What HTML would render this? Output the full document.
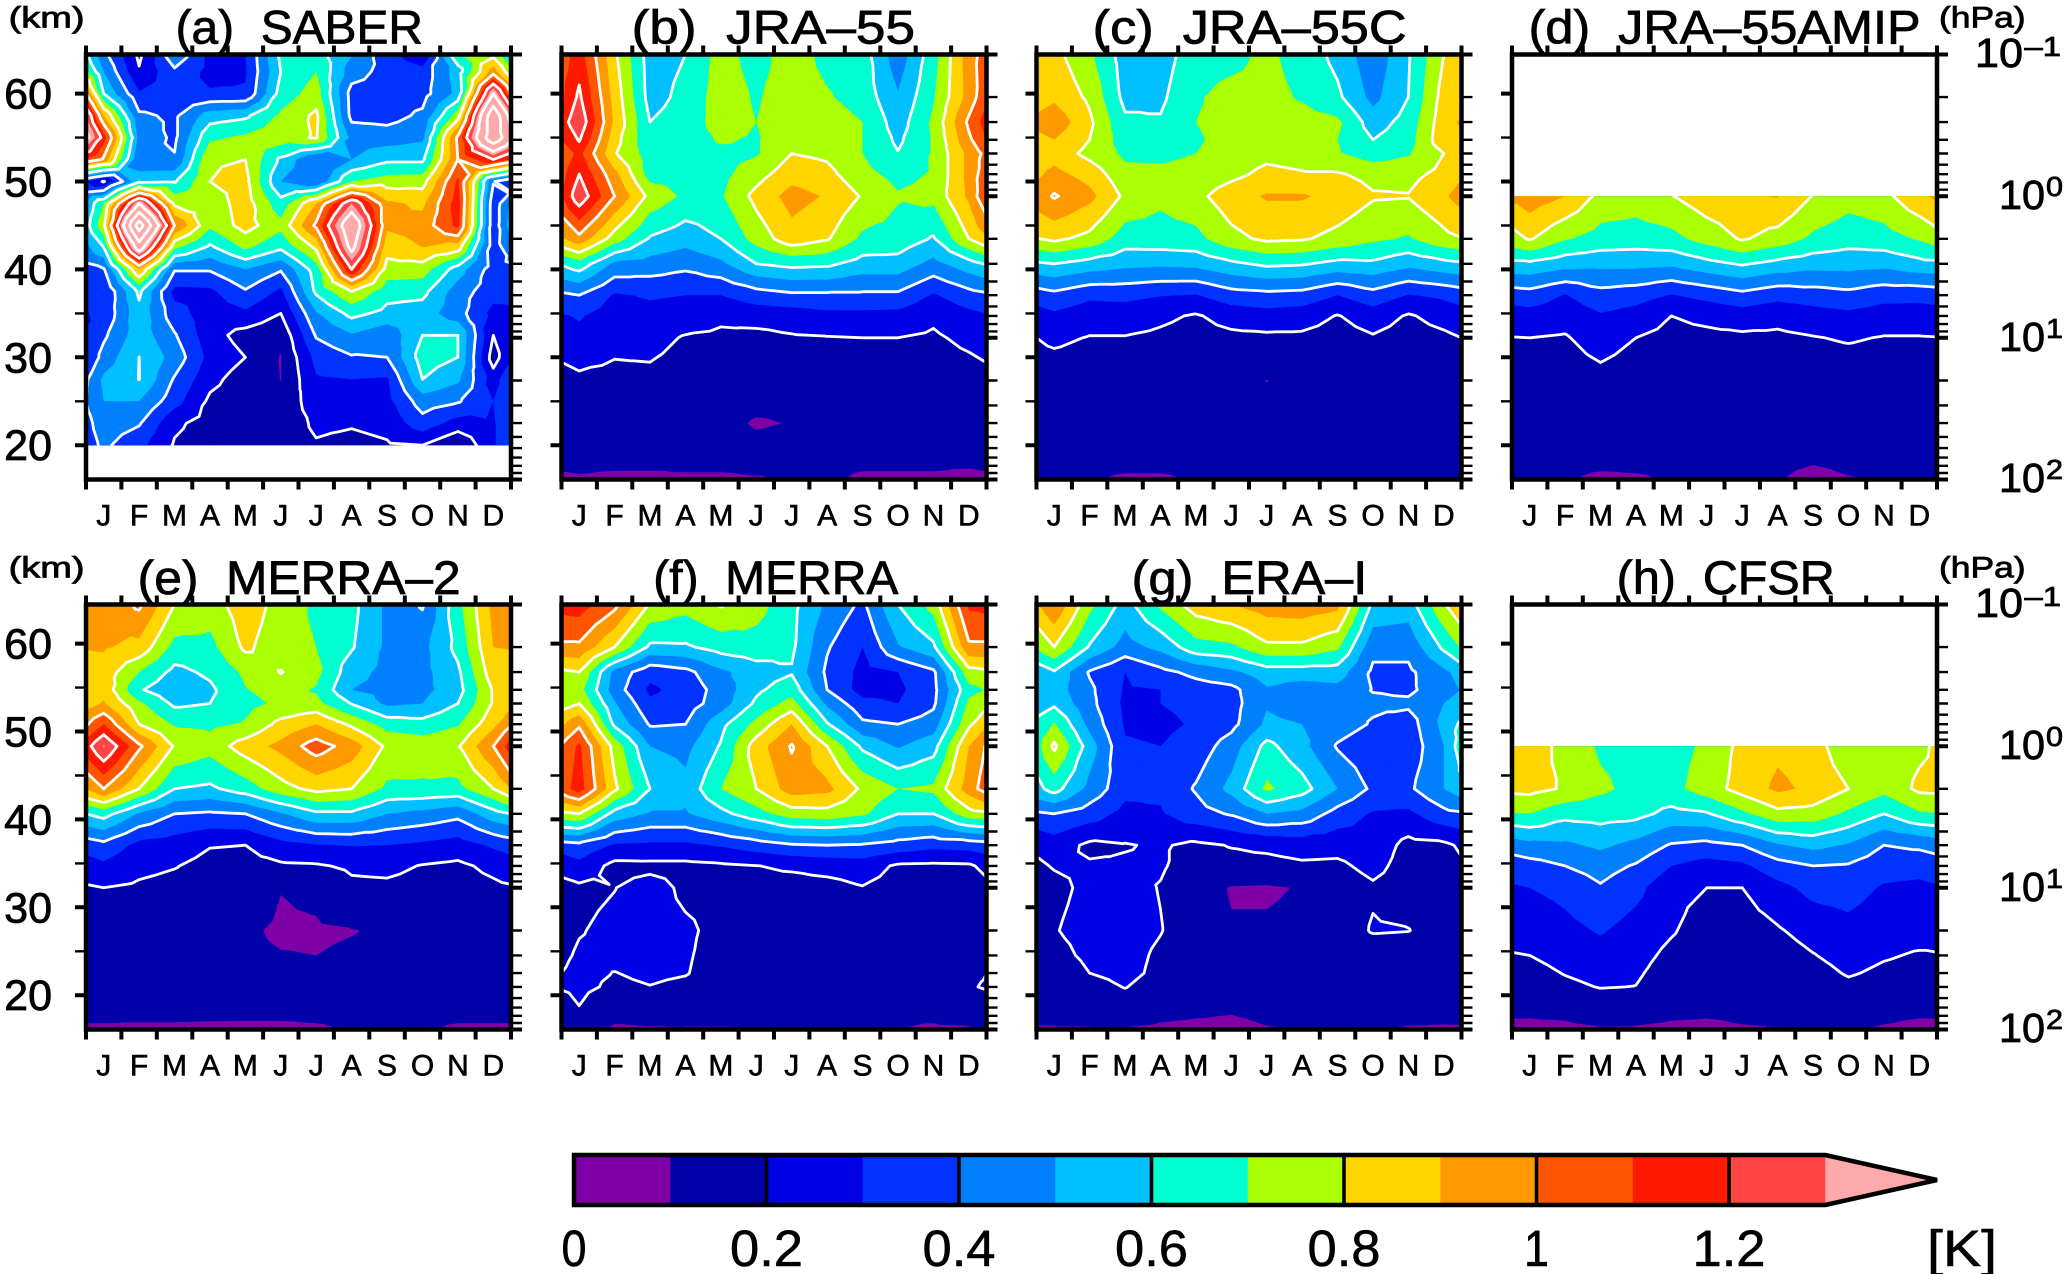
<!DOCTYPE html>
<html lang="en">
<head>
<meta charset="utf-8">
<title>Temperature variance by month and height</title>
<style>
html,body{margin:0;padding:0;background:#fff}
svg{display:block}
text{font-family:"Liberation Sans",sans-serif;fill:#000;white-space:pre;stroke:#000;stroke-width:.6px}
.title text{stroke-width:.8px}
</style>
</head>
<body>
<svg id="figure" xmlns="http://www.w3.org/2000/svg" width="2066" height="1274" viewBox="0 0 2066 1274">
<rect x="0" y="0" width="2066" height="1274" fill="#fff"/>
<g id="panels"></g>
<g id="colorbar"></g>
<g class="title" font-size="47">
<text x="175.6" y="43.3" textLength="247.4" lengthAdjust="spacingAndGlyphs">(a)  SABER</text>
<text x="631.7" y="43.3" textLength="283.3" lengthAdjust="spacingAndGlyphs">(b)  JRA–55</text>
<text x="1092.7" y="43.3" textLength="314" lengthAdjust="spacingAndGlyphs">(c)  JRA–55C</text>
<text x="1528.6" y="43.3" textLength="392" lengthAdjust="spacingAndGlyphs">(d)  JRA–55AMIP</text>
<text x="137.7" y="594" textLength="323" lengthAdjust="spacingAndGlyphs">(e)  MERRA–2</text>
<text x="653.3" y="594" textLength="245" lengthAdjust="spacingAndGlyphs">(f)  MERRA</text>
<text x="1131.7" y="594" textLength="235.6" lengthAdjust="spacingAndGlyphs">(g)  ERA–I</text>
<text x="1616.7" y="594" textLength="218" lengthAdjust="spacingAndGlyphs">(h)  CFSR</text>
</g>
<g class="title" font-size="43" text-anchor="end">
<text x="52" y="108.6">60</text>
<text x="52" y="196.5">50</text>
<text x="52" y="284.4">40</text>
<text x="52" y="372.3">30</text>
<text x="52" y="460.2">20</text>
<text x="52" y="658.6">60</text>
<text x="52" y="746.5">50</text>
<text x="52" y="834.4">40</text>
<text x="52" y="922.3">30</text>
<text x="52" y="1010.2">20</text>
</g>
<g class="title" font-size="30">
<text x="8.6" y="27.5" textLength="76" lengthAdjust="spacingAndGlyphs">(km)</text>
<text x="8.6" y="577.5" textLength="76" lengthAdjust="spacingAndGlyphs">(km)</text>
<text x="1939" y="27.5" textLength="86.6" lengthAdjust="spacingAndGlyphs">(hPa)</text>
<text x="1939" y="577.5" textLength="86.6" lengthAdjust="spacingAndGlyphs">(hPa)</text>
</g>
<g class="title">
<text x="1975" y="67" font-size="41" textLength="48" lengthAdjust="spacingAndGlyphs">10</text>
<text x="2024.5" y="56" font-size="28" textLength="36.5" lengthAdjust="spacingAndGlyphs">–1</text>
<text x="1999" y="209" font-size="41" textLength="46" lengthAdjust="spacingAndGlyphs">10</text>
<text x="2046" y="196" font-size="28" textLength="17" lengthAdjust="spacingAndGlyphs">0</text>
<text x="1999" y="351" font-size="41" textLength="46" lengthAdjust="spacingAndGlyphs">10</text>
<text x="2046" y="338" font-size="28" textLength="17" lengthAdjust="spacingAndGlyphs">1</text>
<text x="1999" y="492" font-size="41" textLength="46" lengthAdjust="spacingAndGlyphs">10</text>
<text x="2046" y="479" font-size="28" textLength="17" lengthAdjust="spacingAndGlyphs">2</text>
<text x="1975" y="617" font-size="41" textLength="48" lengthAdjust="spacingAndGlyphs">10</text>
<text x="2024.5" y="606" font-size="28" textLength="36.5" lengthAdjust="spacingAndGlyphs">–1</text>
<text x="1999" y="759" font-size="41" textLength="46" lengthAdjust="spacingAndGlyphs">10</text>
<text x="2046" y="746" font-size="28" textLength="17" lengthAdjust="spacingAndGlyphs">0</text>
<text x="1999" y="901" font-size="41" textLength="46" lengthAdjust="spacingAndGlyphs">10</text>
<text x="2046" y="888" font-size="28" textLength="17" lengthAdjust="spacingAndGlyphs">1</text>
<text x="1999" y="1042" font-size="41" textLength="46" lengthAdjust="spacingAndGlyphs">10</text>
<text x="2046" y="1029" font-size="28" textLength="17" lengthAdjust="spacingAndGlyphs">2</text>
</g>
</svg>
<script>
const monthLabels=['J','F','M','A','M','J','J','A','S','O','N','D'];
const saberKm=[65,62.5,60,57.5,55,52.5,50,47.5,45,42.5,40,37.5,35,32.5,30,27.5,25,22.5,20];
const fullHpa=[.1,.2,.3,.4,.5,.7,1,2,3,5,7,10,20,30,40,50,70,100];
const lowTopHpa=[1,2,3,5,7,10,20,30,40,50,70,100];
const kmMajorTicks=[60,50,40,30,20];
const kmMinorTicks=[55,45,35,25];
const hpaMajorTicks=[.1,1,10,100];
const hpaMinorTicks=[.2,.3,.4,.5,.6,.7,.8,.9,2,3,4,5,6,7,8,9,20,30,40,50,60,70,80,90];
const shadeLevels=[.1,.2,.3,.4,.5,.6,.7,.8,.9,1,1.1,1.2,1.3];
const shadeColors=['#8000a8','#0000aa','#0000e6','#0033ff','#0080ff','#00c0ff','#00ffd0','#aaff00','#ffd500','#ff9900','#ff5500','#ff1a00','#ff4545','#ffaaaa'];
const contourLevels=[.2,.4,.6,.8,1,1.2,1.4,1.6,1.8];
const colorbarTicks=[0,.2,.4,.6,.8,1,1.2];

const saberValues=[
[.41,.17,.50,.28,.30,.63,.64,.52,.34,.17,.72,.72],
[.50,.21,.38,.27,.29,.60,.70,.45,.36,.34,.55,.95],
[.60,.31,.33,.31,.31,.64,.75,.36,.35,.36,.53,1.4],
[.90,.42,.38,.55,.58,.72,.82,.37,.36,.42,.75,1.75],
[1.15,.47,.38,.68,.72,.76,.81,.47,.45,.48,1.02,1.75],
[.98,.41,.41,.79,.80,.58,.40,.50,.58,.58,1.0,1.2],
[.19,.58,.59,.80,.83,.50,.41,.70,.75,.76,1.12,.41],
[.70,1.4,.78,.74,.85,.64,.90,1.3,.92,.88,1.15,.33],
[.78,1.9,1.0,.72,.84,.73,1.02,1.55,.92,.94,1.13,.33],
[.60,1.5,.72,.58,.72,.62,.82,1.45,.84,.90,.85,.34],
[.39,.90,.41,.41,.50,.41,.65,1.2,.76,.75,.55,.35],
[.30,.62,.27,.28,.39,.28,.62,.80,.64,.63,.45,.34],
[.32,.57,.34,.25,.28,.20,.49,.63,.57,.55,.44,.27],
[.38,.56,.41,.24,.16,.12,.41,.49,.43,.60,.60,.20],
[.44,.6005,.46,.27,.20,.095,.33,.39,.40,.65,.60,.15],
[.52,.602,.39,.23,.15,.098,.29,.30,.29,.60,.52,.25],
[.50,.50,.34,.18,.14,.12,.26,.25,.27,.45,.41,.30],
[.45,.41,.22,.16,.14,.13,.22,.21,.23,.36,.26,.29],
[.42,.33,.19,.15,.14,.14,.19,.17,.19,.20,.10,.29]
];
const jra55Values=[
[1.15,.82,.55,.60,.74,.66,.75,.67,.65,.44,.66,.95],
[1.22,.86,.56,.63,.75,.69,.75,.71,.66,.51,.69,.94],
[1.28,.88,.60,.65,.74,.70,.76,.75,.70,.55,.72,1.02],
[1.21,.84,.62,.66,.71,.69,.77,.76,.70,.58,.71,.98],
[1.13,.81,.65,.67,.68,.69,.80,.78,.70,.605,.71,.93],
[1.20,.93,.66,.67,.67,.76,.86,.83,.73,.67,.71,.93],
[1.27,1.00,.77,.68,.69,.83,.94,.89,.79,.71,.73,.92],
[.97,.75,.59,.54,.60,.74,.86,.81,.68,.66,.59,.80],
[.66,.48,.46,.43,.48,.60,.63,.62,.56,.56,.47,.56],
[.40,.29,.31,.30,.30,.35,.38,.38,.38,.38,.29,.36],
[.31,.25,.27,.26,.22,.24,.245,.27,.27,.265,.22,.27],
[.27,.23,.24,.19,.18,.17,.19,.195,.20,.20,.185,.225],
[.18,.17,.17,.14,.13,.115,.12,.12,.13,.13,.13,.15],
[.14,.14,.14,.13,.12,.11,.11,.11,.12,.12,.12,.13],
[.13,.13,.13,.12,.115,.095,.102,.11,.11,.115,.115,.12],
[.13,.13,.13,.12,.12,.105,.11,.11,.11,.11,.11,.12],
[.115,.115,.115,.11,.11,.11,.105,.105,.105,.105,.105,.11],
[.095,.09,.09,.095,.095,.098,.102,.103,.097,.097,.097,.09]
];
const jra55cValues=[
[.83,.72,.55,.55,.66,.67,.72,.66,.57,.43,.59,.80],
[.88,.78,.57,.58,.69,.73,.73,.69,.62,.47,.60,.84],
[.97,.82,.62,.61,.70,.73,.74,.74,.72,.55,.64,.86],
[.90,.80,.65,.65,.69,.73,.74,.73,.70,.60,.66,.87],
[.86,.77,.68,.68,.70,.73,.77,.75,.71,.65,.69,.80],
[.93,.86,.73,.72,.73,.77,.83,.81,.81,.77,.77,.83],
[1.01,.93,.78,.72,.77,.86,.91,.91,.87,.81,.805,.885],
[.82,.77,.65,.66,.67,.77,.82,.81,.77,.72,.69,.77],
[.60,.56,.53,.52,.53,.58,.62,.61,.57,.58,.53,.57],
[.37,.32,.325,.305,.295,.355,.37,.36,.30,.36,.295,.32],
[.28,.245,.25,.22,.19,.24,.26,.245,.195,.25,.19,.235],
[.22,.195,.195,.18,.16,.175,.18,.18,.16,.19,.16,.18],
[.14,.13,.13,.125,.125,.12,.099,.12,.12,.125,.125,.13],
[.12,.115,.115,.115,.115,.115,.115,.115,.115,.115,.115,.115],
[.11,.11,.11,.11,.11,.11,.11,.11,.11,.11,.11,.11],
[.11,.11,.11,.11,.11,.11,.11,.11,.11,.11,.11,.11],
[.105,.105,.105,.105,.105,.105,.105,.105,.105,.105,.105,.105],
[.102,.101,.098,.098,.101,.102,.102,.102,.102,.102,.102,.102]
];
const jra55amipValues=[
[.96,.90,.77,.75,.795,.86,.89,.905,.795,.74,.77,.88],
[.81,.71,.66,.65,.67,.74,.81,.76,.68,.64,.66,.71],
[.58,.54,.53,.53,.52,.57,.61,.57,.54,.54,.53,.57],
[.355,.295,.36,.34,.295,.33,.37,.33,.35,.37,.335,.33],
[.26,.245,.29,.26,.20,.225,.25,.23,.255,.275,.25,.25],
[.20,.19,.255,.20,.17,.175,.18,.18,.195,.21,.195,.195],
[.14,.13,.16,.13,.125,.125,.125,.125,.13,.135,.13,.13],
[.12,.12,.13,.12,.115,.115,.115,.115,.115,.12,.12,.12],
[.11,.11,.115,.11,.11,.11,.11,.11,.11,.11,.11,.11],
[.11,.11,.11,.11,.108,.108,.108,.108,.108,.11,.11,.11],
[.105,.105,.105,.105,.105,.105,.105,.105,.103,.105,.105,.105],
[.102,.101,.097,.098,.101,.102,.102,.101,.094,.099,.101,.101]
];
const merra2Values=[
[.92,1.02,.80,.75,.86,.76,.68,.63,.48,.39,.67,.93],
[.91,.87,.67,.67,.82,.74,.70,.61,.48,.47,.63,.90],
[.86,.70,.57,.62,.72,.805,.73,.54,.47,.47,.58,.86],
[.87,.61,.53,.58,.695,.74,.69,.50,.47,.47,.56,.81],
[.91,.72,.58,.60,.67,.72,.73,.595,.48,.50,.60,.81],
[1.10,.80,.69,.68,.71,.83,.90,.78,.66,.64,.69,.87],
[1.31,1.02,.79,.74,.85,.93,1.05,.955,.78,.76,.79,1.0],
[1.0,.80,.60,.58,.65,.76,.83,.80,.68,.68,.67,.80],
[.64,.49,.40,.385,.40,.49,.58,.58,.50,.47,.43,.56],
[.37,.27,.25,.205,.20,.265,.295,.305,.30,.28,.255,.315],
[.28,.225,.205,.17,.165,.185,.19,.215,.225,.195,.18,.225],
[.20,.185,.17,.15,.145,.102,.12,.18,.18,.165,.155,.18],
[.13,.125,.125,.12,.11,.09,.09,.097,.11,.125,.125,.13],
[.125,.12,.12,.115,.11,.103,.10,.11,.115,.12,.12,.125],
[.12,.115,.115,.115,.11,.11,.11,.11,.115,.115,.115,.12],
[.115,.11,.11,.11,.11,.11,.11,.11,.11,.11,.11,.115],
[.11,.11,.11,.11,.11,.11,.11,.11,.11,.11,.11,.11],
[.096,.095,.095,.094,.0935,.0935,.096,.102,.103,.102,.096,.096]
];
const merraValues=[
[1.15,1.03,.79,.74,.81,.74,.63,.48,.38,.60,.74,1.12],
[.98,.80,.58,.585,.64,.66,.62,.41,.30,.49,.58,.98],
[.80,.47,.33,.37,.48,.55,.59,.38,.27,.30,.38,.76],
[.74,.45,.28,.34,.44,.58,.66,.40,.26,.28,.37,.67],
[.80,.51,.32,.35,.45,.62,.74,.48,.33,.30,.38,.72],
[.98,.58,.39,.40,.57,.73,.90,.61,.42,.40,.45,.78],
[1.12,.76,.50,.47,.61,.85,1.01,.80,.58,.49,.56,.90],
[1.15,.82,.60,.53,.70,.80,.95,.93,.78,.70,.72,.95],
[.80,.56,.49,.49,.57,.66,.75,.76,.72,.60,.60,.76],
[.37,.29,.28,.28,.31,.35,.39,.40,.39,.36,.33,.34],
[.27,.17,.175,.175,.185,.198,.215,.235,.25,.185,.18,.185],
[.18,.198,.24,.18,.17,.165,.16,.165,.195,.165,.16,.17],
[.195,.22,.24,.215,.175,.14,.13,.13,.13,.13,.14,.15],
[.21,.22,.23,.21,.165,.13,.125,.12,.12,.125,.13,.16],
[.22,.198,.215,.205,.16,.13,.12,.12,.12,.12,.13,.18],
[.22,.185,.198,.18,.15,.125,.12,.115,.115,.115,.125,.193],
[.198,.13,.13,.12,.12,.115,.11,.11,.11,.11,.115,.13],
[.094,.09,.095,.097,.097,.10,.101,.101,.102,.10,.094,.095]
];
const eraiValues=[
[.99,.73,.56,.72,.85,.90,.95,.96,.93,.58,.55,.79],
[.80,.59,.46,.53,.66,.68,.78,.78,.72,.43,.43,.62],
[.59,.39,.30,.37,.43,.48,.55,.55,.55,.38,.38,.48],
[.55,.42,.29,.30,.35,.37,.49,.45,.47,.395,.38,.46],
[.58,.43,.28,.30,.32,.36,.49,.45,.44,.42,.42,.50],
[.71,.47,.29,.28,.31,.37,.52,.50,.45,.39,.35,.53],
[.82,.55,.31,.30,.34,.45,.63,.53,.39,.33,.33,.50],
[.64,.47,.33,.32,.41,.53,.72,.64,.50,.38,.38,.50],
[.40,.35,.27,.29,.36,.41,.50,.47,.36,.29,.28,.37],
[.25,.18,.195,.21,.18,.205,.22,.24,.235,.26,.17,.18],
[.205,.21,.21,.21,.16,.17,.17,.185,.18,.23,.16,.17],
[.18,.218,.24,.195,.14,.095,.09,.105,.14,.185,.15,.15],
[.195,.23,.25,.205,.13,.105,.11,.12,.13,.21,.203,.15],
[.17,.22,.24,.18,.12,.115,.115,.12,.125,.13,.13,.13],
[.14,.20,.235,.17,.12,.115,.115,.115,.12,.12,.12,.12],
[.13,.15,.205,.14,.115,.115,.11,.11,.115,.115,.115,.115],
[.11,.115,.13,.115,.11,.105,.11,.11,.11,.11,.11,.11],
[.098,.098,.097,.093,.09,.09,.098,.102,.102,.102,.098,.097]
];
const cfsrValues=[
[.85,.77,.685,.66,.66,.72,.83,.88,.85,.72,.74,.78],
[.83,.79,.72,.67,.67,.75,.84,.92,.88,.80,.73,.82],
[.70,.63,.64,.63,.57,.59,.68,.77,.76,.68,.60,.69],
[.47,.48,.52,.47,.39,.37,.40,.49,.53,.49,.40,.42],
[.36,.40,.44,.39,.30,.26,.28,.36,.40,.39,.34,.33],
[.30,.33,.39,.33,.23,.20,.20,.27,.33,.34,.29,.28],
[.23,.27,.31,.26,.21,.15,.15,.19,.24,.27,.24,.24],
[.20,.235,.26,.235,.175,.14,.13,.15,.195,.24,.21,.19],
[.165,.205,.235,.215,.15,.13,.125,.14,.16,.21,.18,.165],
[.14,.175,.205,.198,.135,.125,.12,.13,.135,.175,.15,.14],
[.11,.115,.13,.125,.115,.11,.11,.11,.11,.115,.11,.11],
[.09,.09,.096,.095,.09,.09,.097,.099,.102,.102,.097,.09]
];

const SVG_NS='http://www.w3.org/2000/svg';
const FRAME_W=425, FRAME_H=425, DECADE=FRAME_H/3, KM_STEP=8.79, KM20_OFFSET=390.7;
const panelLeft=[86,561.5,1036.5,1512,86,561.5,1036.5,1512];
const panelTop=[54.5,54.5,54.5,54.5,604.5,604.5,604.5,604.5];
const panelKeys=['saber','jra55','jra55c','jra55amip','merra2','merra','erai','cfsr'];
const panelValues=[saberValues,jra55Values,jra55cValues,jra55amipValues,merra2Values,merraValues,eraiValues,cfsrValues];
const panelLevels=[saberKm,fullHpa,fullHpa,lowTopHpa,fullHpa,fullHpa,fullHpa,lowTopHpa];

function make(parent,tag){
  const el=document.createElementNS(SVG_NS,tag);
  parent.appendChild(el);
  return el;
}
function xScale(left,monthIndex){return left+(monthIndex+.5)*FRAME_W/12;}
function hpaY(top,p){return top+Math.log10(p/.1)*DECADE;}
function kmY(top,km){return top+KM20_OFFSET+(20-km)*KM_STEP;}
function f(n){return n.toFixed(1);}

function clipAbove(tri,t){
  const out=[];
  for(let i=0;i<tri.length;i++){
    const a=tri[i], b=tri[(i+1)%tri.length];
    const aIn=a[2]>=t, bIn=b[2]>=t;
    if(aIn) out.push(a);
    if(aIn!==bIn){
      const k=(t-a[2])/(b[2]-a[2]);
      out.push([a[0]+k*(b[0]-a[0]),a[1]+k*(b[1]-a[1]),t]);
    }
  }
  return out;
}
function crossings(tri,t){
  const pts=[];
  for(let i=0;i<3;i++){
    const a=tri[i], b=tri[(i+1)%3];
    if((a[2]>=t)!==(b[2]>=t)){
      const k=(t-a[2])/(b[2]-a[2]);
      pts.push([a[0]+k*(b[0]-a[0]),a[1]+k*(b[1]-a[1])]);
    }
  }
  return pts;
}
function buildTriangles(values,yPositions,left){
  const tris=[];
  for(let j=0;j<values.length-1;j++){
    for(let i=-1;i<12;i++){
      const c0=(i+12)%12, c1=(i+13)%12;
      const x0=xScale(left,i), x1=xScale(left,i+1);
      const y0=yPositions[j], y1=yPositions[j+1];
      const tl=[x0,y0,values[j][c0]], tr=[x1,y0,values[j][c1]];
      const br=[x1,y1,values[j+1][c1]], bl=[x0,y1,values[j+1][c0]];
      const c=[(x0+x1)/2,(y0+y1)/2,(tl[2]+tr[2]+br[2]+bl[2])/4];
      tris.push([tl,tr,c],[tr,br,c],[br,bl,c],[bl,tl,c]);
    }
  }
  return tris;
}

const panelsGroup=document.getElementById('panels');
panelKeys.forEach(function(key,idx){
  const left=panelLeft[idx], top=panelTop[idx];
  const g=make(panelsGroup,'g');
  
  

  const clip=make(g,'clipPath');
  clip.setAttribute('id','clip-'+key);
  const clipRect=make(clip,'rect');
  clipRect.setAttribute('x',left);
  clipRect.setAttribute('y',top);
  clipRect.setAttribute('width',FRAME_W);
  clipRect.setAttribute('height',FRAME_H);

  const levels=panelLevels[idx], values=panelValues[idx];
  const ys=levels.map(function(l){return key==='saber'?kmY(top,l):hpaY(top,l);});
  const tris=buildTriangles(values,ys,left);

  const field=make(g,'g');
  field.setAttribute('clip-path','url(#clip-'+key+')');
  
  

  shadeColors.forEach(function(color,k){
    const threshold=k===0?-Infinity:shadeLevels[k-1];
    let d='';
    tris.forEach(function(tri){
      const poly=clipAbove(tri,threshold);
      if(poly.length<3) return;
      d+='M'+poly.map(function(p){return f(p[0])+' '+f(p[1]);}).join('L')+'Z';
    });
    if(!d) return;
    const band=make(field,'path');
    band.setAttribute('d',d);
    band.setAttribute('fill',color);
    
    
  });

  contourLevels.forEach(function(level){
    let d='';
    tris.forEach(function(tri){
      const pts=crossings(tri,level);
      if(pts.length===2) d+='M'+f(pts[0][0])+' '+f(pts[0][1])+'L'+f(pts[1][0])+' '+f(pts[1][1]);
    });
    if(!d) return;
    const line=make(field,'path');
    line.setAttribute('d',d);
    line.setAttribute('fill','none');
    line.setAttribute('stroke','#fff');
    line.setAttribute('stroke-width','2.8');
    line.setAttribute('stroke-linecap','round');
    line.setAttribute('stroke-linejoin','round');
    
    
  });

  const frame=make(g,'rect');
  frame.setAttribute('x',left);
  frame.setAttribute('y',top);
  frame.setAttribute('width',FRAME_W);
  frame.setAttribute('height',FRAME_H);
  frame.setAttribute('fill','none');
  frame.setAttribute('stroke','#000');
  frame.setAttribute('stroke-width','4.5');
  
  

  let xd='';
  for(let i=0;i<=12;i++){
    const x=left+i*FRAME_W/12;
    xd+='M'+f(x)+' '+f(top-9)+'V'+f(top)+'M'+f(x)+' '+f(top+FRAME_H)+'V'+f(top+FRAME_H+10);
  }
  const xTicks=make(g,'path');
  xTicks.setAttribute('d',xd);
  xTicks.setAttribute('stroke','#000');
  xTicks.setAttribute('stroke-width','4');
  xTicks.setAttribute('fill','none');
  
  

  let lmaj='', lmin='';
  kmMajorTicks.forEach(function(km){lmaj+='M'+f(left-11)+' '+f(kmY(top,km))+'H'+f(left);});
  kmMinorTicks.forEach(function(km){lmin+='M'+f(left-11)+' '+f(kmY(top,km))+'H'+f(left);});
  const leftMajor=make(g,'path');
  leftMajor.setAttribute('d',lmaj);
  leftMajor.setAttribute('stroke','#000');
  leftMajor.setAttribute('stroke-width','4');
  
  
  const leftMinor=make(g,'path');
  leftMinor.setAttribute('d',lmin);
  leftMinor.setAttribute('stroke','#000');
  leftMinor.setAttribute('stroke-width','2.4');
  
  

  let rmaj='', rmin='';
  hpaMajorTicks.forEach(function(p){rmaj+='M'+f(left+FRAME_W)+' '+f(hpaY(top,p))+'H'+f(left+FRAME_W+11);});
  hpaMinorTicks.forEach(function(p){rmin+='M'+f(left+FRAME_W)+' '+f(hpaY(top,p))+'H'+f(left+FRAME_W+11);});
  const rightMajor=make(g,'path');
  rightMajor.setAttribute('d',rmaj);
  rightMajor.setAttribute('stroke','#000');
  rightMajor.setAttribute('stroke-width','4');
  
  
  const rightMinor=make(g,'path');
  rightMinor.setAttribute('d',rmin);
  rightMinor.setAttribute('stroke','#000');
  rightMinor.setAttribute('stroke-width','2.4');
  
  

  monthLabels.forEach(function(m,i){
    const t=make(g,'text');
    t.setAttribute('x',f(xScale(left,i)));
    t.setAttribute('y',f(top+471.2));
    t.setAttribute('font-size','30');
    t.setAttribute('text-anchor','middle');
    t.textContent=m;
    
    
  });
});

const CB_X0=574, CB_PER_K=962.5, CB_TOP=1155, CB_BOTTOM=1205, CB_TIP=1937;
function cbX(v){return CB_X0+v*CB_PER_K;}
const cb=document.getElementById('colorbar');
shadeColors.forEach(function(color,k){
  if(k===shadeColors.length-1) return;
  const lo=k===0?0:shadeLevels[k-1];
  const r=make(cb,'rect');
  r.setAttribute('x',f(cbX(lo)));
  r.setAttribute('y',CB_TOP);
  r.setAttribute('width',f(cbX(shadeLevels[k])-cbX(lo)+.5));
  r.setAttribute('height',CB_BOTTOM-CB_TOP);
  r.setAttribute('fill',color);
  
  
});
const tipX=cbX(shadeLevels[shadeLevels.length-1]);
const tip=make(cb,'path');
tip.setAttribute('d','M'+f(tipX)+' '+CB_TOP+'L'+CB_TIP+' '+((CB_TOP+CB_BOTTOM)/2)+'L'+f(tipX)+' '+CB_BOTTOM+'Z');
tip.setAttribute('fill',shadeColors[shadeColors.length-1]);


const cbOutline=make(cb,'path');
cbOutline.setAttribute('d','M'+CB_X0+' '+CB_TOP+'H'+f(tipX)+'L'+CB_TIP+' '+((CB_TOP+CB_BOTTOM)/2)+'L'+f(tipX)+' '+CB_BOTTOM+'H'+CB_X0+'Z');
cbOutline.setAttribute('fill','none');
cbOutline.setAttribute('stroke','#000');
cbOutline.setAttribute('stroke-width','4.5');
cbOutline.setAttribute('stroke-linejoin','miter');


colorbarTicks.forEach(function(v){
  const x=cbX(v);
  if(v>0){
    const tick=make(cb,'path');
    tick.setAttribute('d','M'+f(x)+' '+CB_TOP+'V'+CB_BOTTOM);
    tick.setAttribute('stroke','#000');
    tick.setAttribute('stroke-width','3.6');
    
    
  }
  const label=make(cb,'text');
  const s=String(v);
  label.setAttribute('x',f(x));
  label.setAttribute('y','1266');
  label.setAttribute('font-size','51');
  label.setAttribute('text-anchor','middle');
  label.setAttribute('textLength',s.length>1?'73':'25');
  label.setAttribute('lengthAdjust','spacingAndGlyphs');
  label.textContent=s;
  
  
});
const unit=make(cb,'text');
unit.setAttribute('x','1927');
unit.setAttribute('y','1266');
unit.setAttribute('font-size','51');
unit.setAttribute('textLength','70');
unit.setAttribute('lengthAdjust','spacingAndGlyphs');
unit.textContent='[K]';


</script>
</body>
</html>
